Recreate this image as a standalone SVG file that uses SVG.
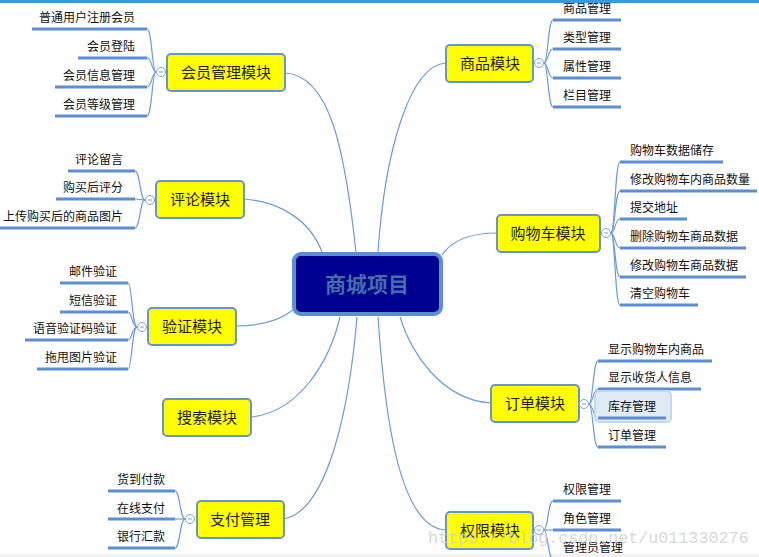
<svg xmlns="http://www.w3.org/2000/svg" width="759" height="557" viewBox="0 0 759 557">
<defs>
<style>
.bg{fill:#ffffff}
.main rect{fill:#ffff00;stroke:#6494d2;stroke-width:2}
.main text{font-family:"Noto Sans CJK SC","Noto Sans",sans-serif;font-size:15px;fill:#222;text-anchor:middle}
.conn path{fill:none;stroke:#6b9bd8;stroke-width:1.2}
.ul{stroke:#5b8ed4;stroke-width:3;fill:none}
.sub text{font-family:"Noto Sans CJK SC","Noto Sans",sans-serif;font-size:12px;fill:#111}
.l text{text-anchor:end}
.tog circle{fill:#fff;stroke:#7ba3d3;stroke-width:1}
.tog path{stroke:#7ba3d3;stroke-width:1}
</style>
</defs>
<rect class="bg" x="0" y="0" width="759" height="557"/>
<rect x="0" y="554" width="759" height="3" fill="#f1f1f1"/>

<g id="connectors" class="conn">
<path d="M285 73 C330 75 345 150 356 252"/>
<path d="M446 63 C410 65 385 150 378 252"/>
<path d="M244 199 C280 202 310 220 322 252"/>
<path d="M497 233 C470 233 452 240 442 255"/>
<path d="M236 326 C260 326 280 320 293 310"/>
<path d="M251 417 C300 412 330 360 340 317"/>
<path d="M284 519 C330 510 350 400 357 317"/>
<path d="M446 530 C400 528 385 420 378 317"/>
<path d="M491 403 C440 400 410 350 400 317"/>
<!-- 会员 -->
<path d="M156 72 C152 72 152 29 147 29"/>
<path d="M156 72 C152 72 152 58 147 58"/>
<path d="M156 72 C152 72 152 87 147 87"/>
<path d="M156 72 C152 72 152 116 147 116"/>
<!-- 评论 -->
<path d="M145 200 C140 200 140 171 135 171"/>
<path d="M145 200 C140 200 140 199 135 199"/>
<path d="M145 200 C140 200 140 228 135 228"/>
<!-- 验证 -->
<path d="M137 327 C132 327 132 283 128 283"/>
<path d="M137 327 C132 327 132 312 128 312"/>
<path d="M137 327 C132 327 132 340 128 340"/>
<path d="M137 327 C132 327 132 369 128 369"/>
<!-- 支付 -->
<path d="M185 519 C180 519 180 491 175 491"/>
<path d="M185 519 C180 519 180 519 175 519"/>
<path d="M185 519 C180 519 180 548 175 548"/>
<!-- 商品 -->
<path d="M544 63 C548 63 548 20 553 20"/>
<path d="M544 63 C548 63 548 49 553 49"/>
<path d="M544 63 C548 63 548 78 553 78"/>
<path d="M544 63 C548 63 548 107 553 107"/>
<!-- 购物车 -->
<path d="M611 233 C615 233 615 162 620 162"/>
<path d="M611 233 C615 233 615 191 620 191"/>
<path d="M611 233 C615 233 615 219 620 219"/>
<path d="M611 233 C615 233 615 248 620 248"/>
<path d="M611 233 C615 233 615 277 620 277"/>
<path d="M611 233 C615 233 615 305 620 305"/>
<!-- 订单 -->
<path d="M589 404 C593 404 593 361 598 361"/>
<path d="M589 404 C593 404 593 389 598 389"/>
<path d="M589 404 C593 404 593 418 598 418"/>
<path d="M589 404 C593 404 593 447 598 447"/>
<!-- 权限 -->
<path d="M544 530 C548 530 548 501 553 501"/>
<path d="M544 530 C548 530 548 530 553 530"/>
<path d="M544 530 C548 530 548 559 553 559"/>
</g>

<g id="center">
<rect x="294" y="254" width="147" height="60" rx="7" fill="#000090" stroke="#5b8fd0" stroke-width="4"/>
<text x="367" y="292" font-family="'Noto Sans CJK SC','Noto Sans',sans-serif" font-size="21" font-weight="bold" fill="#426fa6" text-anchor="middle">商城项目</text>
</g>

<g id="n-huiyuan" class="main"><rect x="167" y="54" width="118" height="37" rx="4"/><text x="226" y="78">会员管理模块</text></g>
<g id="n-pinglun" class="main"><rect x="156" y="181" width="88" height="37" rx="4"/><text x="200" y="205">评论模块</text></g>
<g id="n-yanzheng" class="main"><rect x="148" y="308" width="88" height="37" rx="4"/><text x="192" y="332">验证模块</text></g>
<g id="n-sousuo" class="main"><rect x="163" y="399" width="88" height="37" rx="4"/><text x="207" y="423">搜索模块</text></g>
<g id="n-zhifu" class="main"><rect x="197" y="501" width="87" height="37" rx="4"/><text x="240" y="525">支付管理</text></g>
<g id="n-shangpin" class="main"><rect x="446" y="45" width="87" height="37" rx="4"/><text x="490" y="69">商品模块</text></g>
<g id="n-gouwuche" class="main"><rect x="497" y="215" width="103" height="37" rx="4"/><text x="548" y="239">购物车模块</text></g>
<g id="n-dingdan" class="main"><rect x="491" y="385" width="88" height="37" rx="4"/><text x="535" y="409">订单模块</text></g>
<g id="n-quanxian" class="main"><rect x="446" y="512" width="87" height="37" rx="4"/><text x="490" y="536">权限模块</text></g>

<g class="tog">
<g id="t-huiyuan"><circle cx="161" cy="72" r="4.5"/><path d="M159 72 H163"/></g>
<g id="t-pinglun"><circle cx="150" cy="200" r="4.5"/><path d="M148 200 H152"/></g>
<g id="t-yanzheng"><circle cx="142" cy="327" r="4.5"/><path d="M140 327 H144"/></g>
<g id="t-zhifu"><circle cx="190" cy="519" r="4.5"/><path d="M188 519 H192"/></g>
<g id="t-shangpin"><circle cx="539" cy="63" r="4.5"/><path d="M537 63 H541"/></g>
<g id="t-gouwuche"><circle cx="606" cy="233" r="4.5"/><path d="M604 233 H608"/></g>
<g id="t-dingdan"><circle cx="584" cy="404" r="4.5"/><path d="M582 404 H586"/></g>
<g id="t-quanxian"><circle cx="539" cy="530" r="4.5"/><path d="M537 530 H541"/></g>
</g>

<g class="sub l">
<g id="s-hy1"><path class="ul" d="M32 29 H147"/><text x="135" y="22">普通用户注册会员</text></g>
<g id="s-hy2"><path class="ul" d="M78 58 H147"/><text x="135" y="51">会员登陆</text></g>
<g id="s-hy3"><path class="ul" d="M55 87 H147"/><text x="135" y="80">会员信息管理</text></g>
<g id="s-hy4"><path class="ul" d="M55 116 H147"/><text x="135" y="109">会员等级管理</text></g>
<g id="s-pl1"><path class="ul" d="M68 171 H135"/><text x="123" y="164">评论留言</text></g>
<g id="s-pl2"><path class="ul" d="M56 199 H135"/><text x="123" y="192">购买后评分</text></g>
<g id="s-pl3"><path class="ul" d="M0 228 H135"/><text x="123" y="221">上传购买后的商品图片</text></g>
<g id="s-yz1"><path class="ul" d="M60 283 H128"/><text x="117" y="276">邮件验证</text></g>
<g id="s-yz2"><path class="ul" d="M60 312 H128"/><text x="117" y="305">短信验证</text></g>
<g id="s-yz3"><path class="ul" d="M25 340 H128"/><text x="117" y="333">语音验证码验证</text></g>
<g id="s-yz4"><path class="ul" d="M37 369 H128"/><text x="117" y="362">拖甩图片验证</text></g>
<g id="s-zf1"><path class="ul" d="M108 491 H175"/><text x="165" y="484">货到付款</text></g>
<g id="s-zf2"><path class="ul" d="M108 519 H175"/><text x="165" y="513">在线支付</text></g>
<g id="s-zf3"><path class="ul" d="M108 548 H175"/><text x="165" y="541">银行汇款</text></g>
</g>

<g class="sub">
<g id="s-sp1"><path class="ul" d="M553 20 H621"/><text x="563" y="13">商品管理</text></g>
<g id="s-sp2"><path class="ul" d="M553 49 H621"/><text x="563" y="42">类型管理</text></g>
<g id="s-sp3"><path class="ul" d="M553 78 H621"/><text x="563" y="71">属性管理</text></g>
<g id="s-sp4"><path class="ul" d="M553 107 H621"/><text x="563" y="100">栏目管理</text></g>
<g id="s-gw1"><path class="ul" d="M620 162 H723"/><text x="630" y="155">购物车数据储存</text></g>
<g id="s-gw2"><path class="ul" d="M620 191 H757"/><text x="630" y="184">修改购物车内商品数量</text></g>
<g id="s-gw3"><path class="ul" d="M620 219 H687"/><text x="630" y="212">提交地址</text></g>
<g id="s-gw4"><path class="ul" d="M620 248 H746"/><text x="630" y="241">删除购物车商品数据</text></g>
<g id="s-gw5"><path class="ul" d="M620 277 H746"/><text x="630" y="270">修改购物车商品数据</text></g>
<g id="s-gw6"><path class="ul" d="M620 305 H698"/><text x="630" y="298">清空购物车</text></g>
<g id="s-dd1"><path class="ul" d="M598 361 H712"/><text x="608" y="354">显示购物车内商品</text></g>
<g id="s-dd2"><path class="ul" d="M598 389 H701"/><text x="608" y="382">显示收货人信息</text></g>
<g id="s-dd3"><rect x="595" y="391" width="76" height="31" rx="4" fill="#dfeaf4" stroke="#c5d7ea" stroke-width="2"/><path class="ul" d="M598 418 H666"/><text x="608" y="411">库存管理</text></g>
<g id="s-dd4"><path class="ul" d="M598 447 H666"/><text x="608" y="440">订单管理</text></g>
<g id="s-qx1"><path class="ul" d="M553 501 H621"/><text x="563" y="494">权限管理</text></g>
<g id="s-qx2"><path class="ul" d="M553 530 H621"/><text x="563" y="523">角色管理</text></g>
<g id="s-qx3"><path class="ul" d="M553 559 H621"/><text x="563" y="552">管理员管理</text></g>
</g>

<text x="428" y="543" font-family="'Liberation Mono',monospace" font-size="16.7" fill="#cfcfcf" fill-opacity="0.85">https://blog.csdn.net/u011330276</text>
<rect x="0" y="0" width="759" height="3" fill="#3a9ad9"/>
</svg>
